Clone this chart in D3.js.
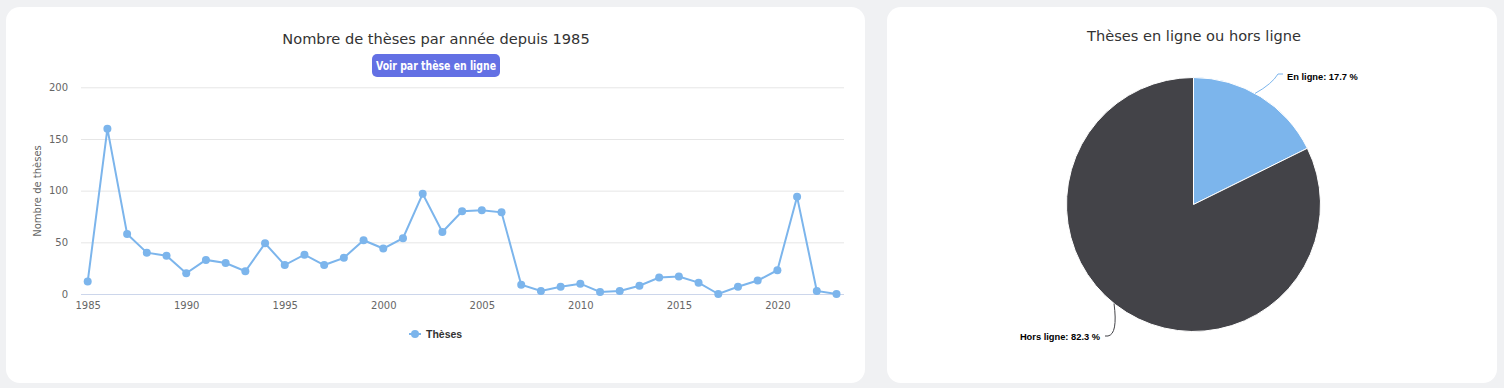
<!DOCTYPE html>
<html><head><meta charset="utf-8">
<script src="https://cdn.jsdelivr.net/npm/d3@7"></script>
<style>
html,body{margin:0;padding:0;background:#f0f1f3;}
svg{display:block;}
</style></head>
<body>
<svg id="c" width="1504" height="388"></svg>
<script>
const years = [1985,1986,1987,1988,1989,1990,1991,1992,1993,1994,1995,1996,1997,1998,1999,2000,2001,2002,2003,2004,2005,2006,2007,2008,2009,2010,2011,2012,2013,2014,2015,2016,2017,2018,2019,2020,2021,2022,2023];
const theses = [12,160,58,40,37,20,33,30,22,49,28,38,28,35,52,44,54,97,60,80,81,79,9,3,7,10,2,3,8,16,17,11,0,7,13,23,94,3,0];
const yTicks = [0,50,100,150,200];
const xTicks = [1985,1990,1995,2000,2005,2010,2015,2020];
const pieLabels = ["En ligne","Hors ligne"];
const pieValues = [17.7,82.3];
const pieColors = ["#7cb5ec","#434348"];

const svg = d3.select("#c");
const font = "'DejaVu Sans', sans-serif";
const bfont = "'Liberation Sans', Arial, sans-serif";

// cards
svg.append("rect").attr("x",6).attr("y",7).attr("width",859).attr("height",376).attr("rx",14).attr("fill","#fff");
svg.append("rect").attr("x",887).attr("y",7).attr("width",610).attr("height",376).attr("rx",14).attr("fill","#fff");

// ---- line chart ----
const x = d3.scaleLinear().domain([1985,2023]).range([87.7,836.5]);
const y = d3.scaleLinear().domain([0,200]).range([294,87.3]);
const gL = svg.append("g");

gL.append("text").attr("x",436).attr("y",44).attr("text-anchor","middle")
  .attr("font-family",font).attr("font-size",14.6).attr("fill","#333")
  .text("Nombre de thèses par année depuis 1985");

// button
gL.append("rect").attr("x",372).attr("y",54).attr("width",128).attr("height",23).attr("rx",5).attr("fill","#6370e4");
gL.append("text").attr("x",436).attr("y",70).attr("text-anchor","middle")
  .attr("font-family","'DejaVu Sans Condensed', 'DejaVu Sans', sans-serif").attr("font-weight","bold")
  .attr("font-size",12).attr("fill","#fff")
  .attr("textLength",120).attr("lengthAdjust","spacingAndGlyphs")
  .text("Voir par thèse en ligne");

// grid
gL.selectAll("line.grid").data(yTicks.filter(d=>d>0)).join("line")
  .attr("x1",81).attr("x2",844).attr("y1",d=>y(d)+0.5).attr("y2",d=>y(d)+0.5)
  .attr("stroke","#e6e6e6").attr("stroke-width",1);
// x axis line
gL.append("line").attr("x1",81).attr("x2",844).attr("y1",y(0)+0.5).attr("y2",y(0)+0.5).attr("stroke","#ccd6eb");

const yAxis = d3.axisLeft(y).tickValues(yTicks).tickSize(0).tickPadding(0);
const ya = gL.append("g").attr("transform","translate(68,0)").call(yAxis);
ya.select(".domain").remove();
ya.selectAll("text").attr("font-family",font).attr("font-size",10).attr("fill","#666");

const xAxis = d3.axisBottom(x).tickValues(xTicks).tickFormat(d3.format("d")).tickSize(0).tickPadding(0);
const xa = gL.append("g").attr("transform","translate(0,302)").call(xAxis);
xa.select(".domain").remove();
xa.selectAll("text").attr("font-family",font).attr("font-size",10).attr("fill","#666");

gL.append("text").attr("transform","translate(41,191) rotate(-90)").attr("text-anchor","middle")
  .attr("font-family",font).attr("font-size",10).attr("fill","#666").text("Nombre de thèses");

const line = d3.line().x((d,i)=>x(years[i])).y(d=>y(d));
gL.append("path").datum(theses).attr("d",line).attr("fill","none").attr("stroke","#7cb5ec").attr("stroke-width",2);
gL.selectAll("circle.pt").data(theses).join("circle")
  .attr("cx",(d,i)=>x(years[i])).attr("cy",d=>y(d)).attr("r",4).attr("fill","#7cb5ec");

// legend
gL.append("line").attr("x1",409).attr("x2",421).attr("y1",334).attr("y2",334).attr("stroke","#7cb5ec").attr("stroke-width",2);
gL.append("circle").attr("cx",415).attr("cy",334).attr("r",4).attr("fill","#7cb5ec");
gL.append("text").attr("x",426).attr("y",338).attr("font-family",bfont).attr("font-weight","bold")
  .attr("font-size",10.5).attr("fill","#333").text("Thèses");

// ---- pie ----
const gP = svg.append("g");
gP.append("text").attr("x",1194).attr("y",41).attr("text-anchor","middle")
  .attr("font-family",font).attr("font-size",14.6).attr("fill","#333").text("Thèses en ligne ou hors ligne");

const cx = 1193.5, cy = 204.5, R = 127;
const pie = d3.pie().sort(null).value(d=>d);
const arcs = pie(pieValues);
const arc = d3.arc().innerRadius(0).outerRadius(R);
const gp = gP.append("g").attr("transform",`translate(${cx},${cy})`);
gp.selectAll("path").data(arcs).join("path").attr("d",arc)
  .attr("fill",(d,i)=>pieColors[i]).attr("stroke","#fff").attr("stroke-width",1).attr("stroke-linejoin","round");

// labels with connectors
const labelPos = [
  {tx:1287, ty:80, anchor:"start", ex:1278, ey:77},
  {tx:1100, ty:340, anchor:"end", ex:1108, ey:336}
];
arcs.forEach((a,i)=>{
  const mid = (a.startAngle+a.endAngle)/2;
  const ang = i===0 ? mid - 0.05 : mid + 0.12;
  const px = cx + Math.sin(ang)*R, py = cy - Math.cos(ang)*R;
  const lp = labelPos[i];
  const p = d3.path();
  p.moveTo(px,py);
  if(i===0){ p.quadraticCurveTo(1272,84,lp.ex,lp.ey-3); p.lineTo(lp.ex+5,lp.ey-3);}
  else { p.quadraticCurveTo(1118,334,lp.ex,lp.ey); p.lineTo(lp.ex-3,lp.ey);}
  gP.append("path").attr("d",p.toString()).attr("fill","none").attr("stroke",pieColors[i]).attr("stroke-width",1);
  gP.append("text").attr("x",lp.tx).attr("y",lp.ty).attr("text-anchor",lp.anchor)
    .attr("font-family",bfont).attr("font-weight","bold").attr("font-size",9.3).attr("fill","#000")
    .text(`${pieLabels[i]}: ${pieValues[i]} %`);
});
</script>
</body></html>
